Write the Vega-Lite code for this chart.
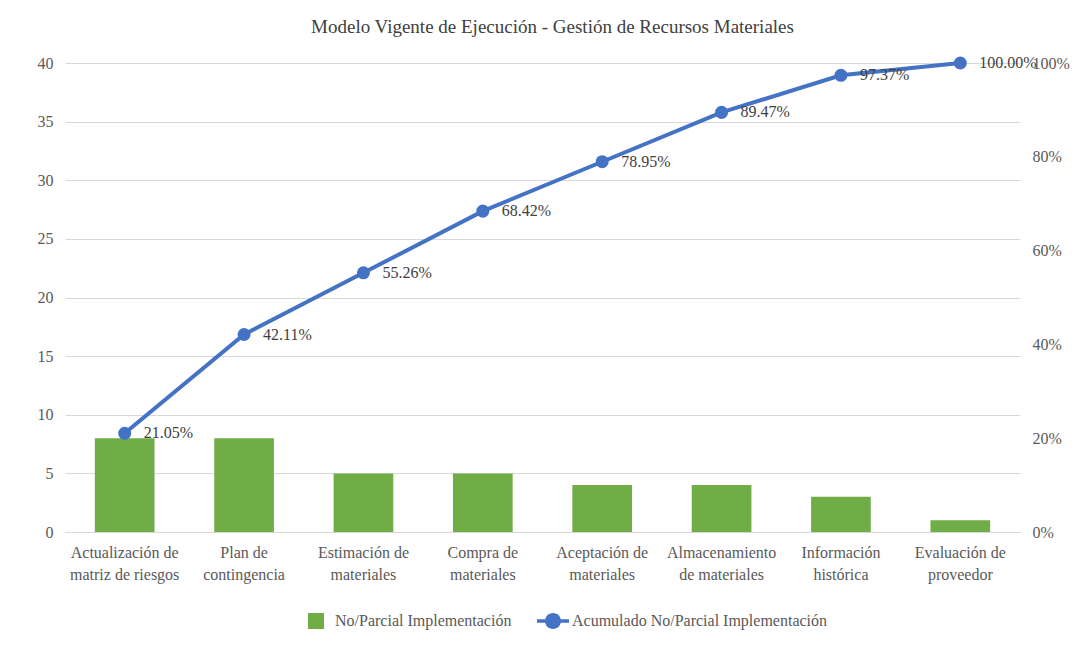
{
  "$schema": "https://vega.github.io/schema/vega-lite/v6.json",
  "autosize": {"type": "none"},
  "width": 955,
  "height": 469,
  "padding": {"left": 65, "top": 63, "right": 64, "bottom": 116},
  "background": "white",
  "config": {
    "font": "Liberation Serif",
    "view": {"stroke": null},
    "axis": {"labelFont": "Liberation Serif", "labelColor": "#595959", "labelFontSize": 16},
    "legend": {"labelFont": "Liberation Serif"},
    "text": {"font": "Liberation Serif"}
  },
  "title": {
    "text": "Modelo Vigente de Ejecución - Gestión de Recursos Materiales",
    "font": "Liberation Serif",
    "fontSize": 19,
    "fontWeight": "normal",
    "color": "#404040",
    "anchor": "middle",
    "offset": 18,
    "dx": 10
  },
  "data": {
    "values": [
      {"cat": "Actualización de matriz de riesgos", "n": 8, "cum": 0.2105},
      {"cat": "Plan de contingencia", "n": 8, "cum": 0.4211},
      {"cat": "Estimación de materiales", "n": 5, "cum": 0.5526},
      {"cat": "Compra de materiales", "n": 5, "cum": 0.6842},
      {"cat": "Aceptación de materiales", "n": 4, "cum": 0.7895},
      {"cat": "Almacenamiento de materiales", "n": 4, "cum": 0.8947},
      {"cat": "Información histórica", "n": 3, "cum": 0.9737},
      {"cat": "Evaluación de proveedor", "n": 1, "cum": 1.0}
    ]
  },
  "encoding": {
    "x": {
      "field": "cat",
      "type": "nominal",
      "sort": null,
      "scale": {"paddingInner": 0.5, "paddingOuter": 0.25},
      "axis": {
        "title": null,
        "labelAngle": 0,
        "ticks": false,
        "domainColor": "#D9D9D9",
        "labelPadding": 20,
        "labelLineHeight": 22,
        "labelBaseline": "middle",
        "labelLimit": 300,
        "labelFont": "Liberation Serif",
        "labelExpr": "{'Actualización de matriz de riesgos': ['Actualización de','matriz de riesgos'], 'Plan de contingencia': ['Plan de','contingencia'], 'Estimación de materiales': ['Estimación de','materiales'], 'Compra de materiales': ['Compra de','materiales'], 'Aceptación de materiales': ['Aceptación de','materiales'], 'Almacenamiento de materiales': ['Almacenamiento','de materiales'], 'Información histórica': ['Información','histórica'], 'Evaluación de proveedor': ['Evaluación de','proveedor']}[datum.value]"
      }
    }
  },
  "layer": [
    {
      "mark": {"type": "bar", "color": "#70AD47"},
      "encoding": {
        "y": {
          "field": "n",
          "type": "quantitative",
          "scale": {"domain": [0, 40]},
          "axis": {
            "title": null,
            "values": [0, 5, 10, 15, 20, 25, 30, 35, 40],
            "ticks": false,
            "domain": false,
            "gridColor": "#D9D9D9",
            "labelPadding": 12,
            "labelFont": "Liberation Serif"
          }
        },
        "color": {
          "datum": "No/Parcial Implementación",
          "type": "nominal",
          "scale": {
            "domain": ["No/Parcial Implementación", "Acumulado No/Parcial Implementación"],
            "range": ["#70AD47", "#4472C4"]
          },
          "legend": {
            "title": null,
            "orient": "none",
            "legendX": 235,
            "legendY": 542,
            "direction": "horizontal",
            "labelFont": "Liberation Serif",
            "labelFontSize": 16,
            "labelColor": "#595959",
            "labelLimit": 400,
            "columnPadding": 25,
            "symbolSize": 1024,
            "labelOffset": 3,
            "encode": {
              "symbols": {
                "update": {
                  "shape": [
                    {"test": "datum.value === 'Acumulado No/Parcial Implementación'", "value": "M-1,-0.11 L1,-0.11 L1,0.11 L-1,0.11 Z M0.5,0 A0.5,0.5 0 1,1 -0.5,0 A0.5,0.5 0 1,1 0.5,0 Z"},
                    {"value": "M-0.5,-0.5 L0.5,-0.5 L0.5,0.5 L-0.5,0.5 Z"}
                  ],
                  "fill": [
                    {"test": "datum.value === 'Acumulado No/Parcial Implementación'", "value": "#4472C4"},
                    {"value": "#70AD47"}
                  ],
                  "fillOpacity": {"value": 1},
                  "strokeWidth": {"value": 0},
                  "size": {"value": 1024}
                }
              }
            }
          }
        }
      }
    },
    {
      "encoding": {
        "y": {
          "field": "cum",
          "type": "quantitative",
          "scale": {"domain": [0, 1]},
          "axis": {
            "title": null,
            "orient": "right",
            "format": "0%",
            "values": [0, 0.2, 0.4, 0.6, 0.8, 1],
            "ticks": false,
            "domain": false,
            "grid": false,
            "labelPadding": 12,
            "labelFont": "Liberation Serif"
          }
        }
      },
      "layer": [
        {
          "mark": {"type": "line", "strokeWidth": 4, "color": "#4472C4", "point": {"filled": true, "size": 170, "color": "#4472C4"}},
          "encoding": {
            "color": {"datum": "Acumulado No/Parcial Implementación", "type": "nominal"}
          }
        },
        {
          "mark": {"type": "text", "align": "left", "baseline": "middle", "dx": 19, "fontSize": 16, "color": "#404040", "font": "Liberation Serif"},
          "encoding": {
            "text": {"field": "cum", "type": "quantitative", "format": ".2%"}
          }
        }
      ]
    }
  ],
  "resolve": {"scale": {"y": "independent"}}
}
